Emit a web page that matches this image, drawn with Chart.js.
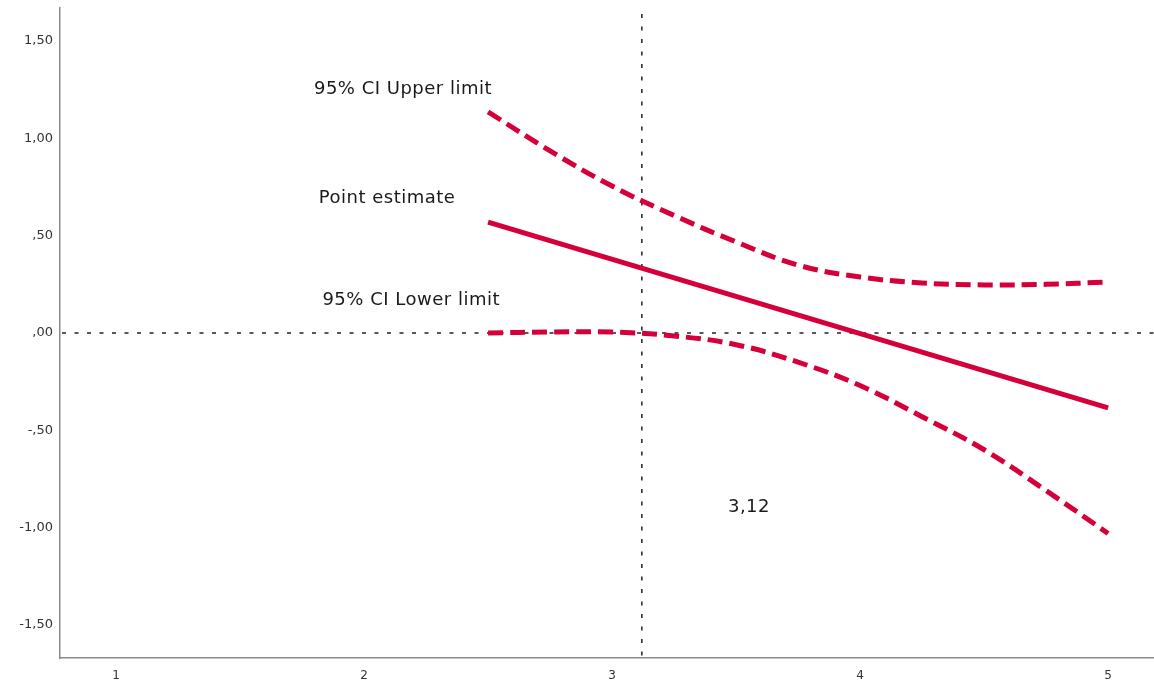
<!DOCTYPE html>
<html>
<head>
<meta charset="utf-8">
<script src="https://cdn.jsdelivr.net/npm/chart.js@4/dist/chart.umd.min.js"></script>
<style>
  html, body { margin: 0; padding: 0; background: #ffffff; overflow: hidden; }
  #wrap { position: relative; width: 1154px; height: 682px; }
</style>
</head>
<body>
<div id="wrap"><canvas id="c"></canvas></div>
<script>
// Moderator values at which the conditional effect is evaluated
const ciX = [2.5, 2.75, 3.0, 3.25, 3.5, 3.75, 4.0, 4.25, 4.5, 4.75, 5.0];
const upperLimit = [1.136, 0.936, 0.755, 0.604, 0.468, 0.349, 0.288, 0.257, 0.247, 0.25, 0.262];
const lowerLimit = [0.00, 0.005, 0.005, -0.015, -0.06, -0.15, -0.27, -0.43, -0.60, -0.81, -1.03];

// Point estimate of the conditional effect (straight line)
const estimateX = [2.5, 5.0];
const pointEstimate = [0.57, -0.385];

// Johnson-Neyman point and zero reference
const jnPoint = 3.12;
const zeroLine = 0;

// Axis ticks
const xTicks = [1, 2, 3, 4, 5];
const xTickLabels = ['1', '2', '3', '4', '5'];
const yTicks = [1.5, 1.0, 0.5, 0.0, -0.5, -1.0, -1.5];
const yTickLabels = ['1,50', '1,00', ',50', ',00', '-,50', '-1,00', '-1,50'];

// Text annotations
const noteTexts = ['95% CI Upper limit', 'Point estimate', '95% CI Lower limit', '3,12'];
const noteX = [2.157, 2.093, 2.19, 3.552];
const noteY = [1.25, 0.694, 0.17, -0.894];

const RED = '#D5003A';

function pts(xs, ys) { return xs.map((x, i) => ({ x: x, y: ys[i] })); }

const refLines = {
  id: 'refLines',
  beforeDatasetsDraw(chart) {
    const { ctx, chartArea, scales } = chart;
    const xs = scales.x, ys = scales.y;
    ctx.save();
    ctx.strokeStyle = '#222222';
    ctx.lineWidth = 1.5;
    ctx.setLineDash([4, 8.5]);
    // horizontal zero line
    const y0 = ys.getPixelForValue(zeroLine);
    ctx.beginPath();
    ctx.moveTo(chartArea.left + 2, y0);
    ctx.lineTo(chartArea.right, y0);
    ctx.stroke();
    // vertical line at the transition point
    const xj = xs.getPixelForValue(jnPoint);
    ctx.beginPath();
    ctx.moveTo(xj, chartArea.top + 6);
    ctx.lineTo(xj, chartArea.bottom);
    ctx.stroke();
    ctx.restore();
  },
  afterDatasetsDraw(chart) {
    const { ctx, scales } = chart;
    ctx.save();
    ctx.fillStyle = '#1a1a1a';
    ctx.font = '18px "DejaVu Sans", sans-serif';
    ctx.letterSpacing = '0.5px';
    ctx.textAlign = 'center';
    ctx.textBaseline = 'middle';
    noteTexts.forEach((t, i) => {
      ctx.fillText(t, scales.x.getPixelForValue(noteX[i]), scales.y.getPixelForValue(noteY[i]));
    });
    ctx.restore();
  }
};

new Chart(document.getElementById('c'), {
  type: 'scatter',
  data: {
    datasets: [
      {
        label: 'Point estimate',
        data: pts(estimateX, pointEstimate),
        showLine: true,
        borderColor: RED,
        borderWidth: 5,
        pointRadius: 0
      },
      {
        label: '95% CI Upper limit',
        data: pts(ciX, upperLimit),
        showLine: true,
        borderColor: RED,
        borderWidth: 5,
        borderDash: [15, 7],
        tension: 0.4,
        pointRadius: 0
      },
      {
        label: '95% CI Lower limit',
        data: pts(ciX, lowerLimit),
        showLine: true,
        borderColor: RED,
        borderWidth: 5,
        borderDash: [15, 7],
        tension: 0.4,
        pointRadius: 0
      }
    ]
  },
  options: {
    responsive: true,
    maintainAspectRatio: false,
    animation: false,
    layout: { padding: { top: 8, right: 0, left: 0, bottom: 0 } },
    plugins: {
      legend: { display: false },
      tooltip: { enabled: false }
    },
    scales: {
      x: {
        type: 'linear',
        min: 0.774,
        max: 5.185,
        grid: { display: false, drawTicks: false },
        border: { display: true, color: '#8a8a8a', width: 1.5 },
        afterBuildTicks(scale) { scale.ticks = xTicks.map(v => ({ value: v })); },
        afterFit(scale) { scale.height = 24; scale.paddingLeft = 0; scale.paddingRight = 0; },
        ticks: {
          padding: 11,
          color: '#333333',
          font: { family: '"DejaVu Sans", sans-serif', size: 12 },
          maxRotation: 0,
          callback: (v) => { const i = xTicks.indexOf(v); return i >= 0 ? xTickLabels[i] : ''; }
        }
      },
      y: {
        type: 'linear',
        min: -1.67,
        max: 1.67,
        grid: { display: false, drawTicks: false },
        border: { display: true, color: '#8a8a8a', width: 1.5 },
        afterBuildTicks(scale) { scale.ticks = yTicks.map(v => ({ value: v })); },
        afterFit(scale) { scale.width = 60; scale.paddingTop = 0; scale.paddingBottom = 0; },
        ticks: {
          padding: 7,
          color: '#333333',
          font: { family: '"DejaVu Sans", sans-serif', size: 13 },
          callback: (v) => { const i = yTicks.indexOf(v); return i >= 0 ? yTickLabels[i] : ''; }
        }
      }
    }
  },
  plugins: [refLines]
});
</script>
</body>
</html>
